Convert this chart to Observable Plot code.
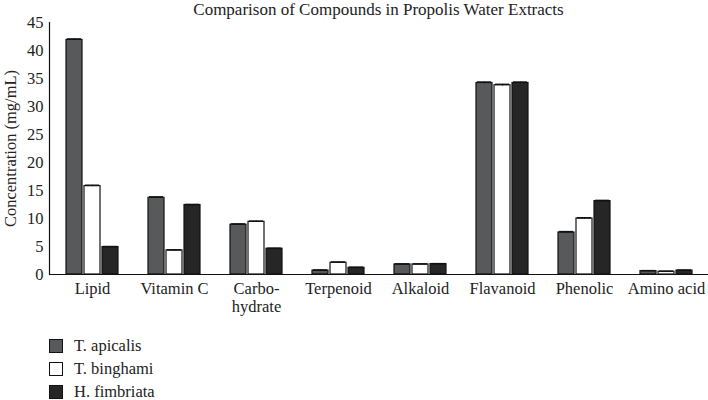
<!DOCTYPE html>
<html>
<head>
<meta charset="utf-8">
<script src="https://cdn.jsdelivr.net/npm/d3@7"></script>
<script src="https://cdn.jsdelivr.net/npm/@observablehq/plot@0.6"></script>
<style>
  html, body { margin: 0; padding: 0; background: #fff; }
  #wrap { position: relative; width: 708px; height: 400px; font-family: "Liberation Serif", serif; color: #222; }
  #title { position: absolute; left: 49px; width: 659px; top: 0; line-height: 20px; text-align: center; font-size: 17px; }
  #chart { position: absolute; left: 0; top: 0; }
  #legend { position: absolute; left: 49px; top: 334px; font-size: 16.5px; }
  .row { display: flex; align-items: center; height: 23px; }
  .sw { width: 12px; height: 12px; border: 1.2px solid #111; margin-right: 11px; box-sizing: content-box; }
</style>
</head>
<body>
<div id="wrap">
  <div id="chart"></div>
  <div id="title"></div>
  <div id="legend"></div>
</div>
<script>
const title = "Comparison of Compounds in Propolis Water Extracts";
const yLabel = "Concentration (mg/mL)";
const categories = ["Lipid", "Vitamin C", "Carbohydrate", "Terpenoid", "Alkaloid", "Flavanoid", "Phenolic", "Amino acid"];
const categoryLabels = ["Lipid", "Vitamin C", "Carbo-\nhydrate", "Terpenoid", "Alkaloid", "Flavanoid", "Phenolic", "Amino acid"];
const series = ["T. apicalis", "T. binghami", "H. fimbriata"];
const colors = ["#58595b", "#ffffff", "#262626"];
const apicalis = [41.9, 13.7, 8.9, 0.7, 1.8, 34.2, 7.5, 0.6];
const binghami = [15.8, 4.3, 9.4, 2.1, 1.8, 33.8, 10.0, 0.5];
const fimbriata = [4.9, 12.4, 4.6, 1.2, 1.85, 34.2, 13.1, 0.7];
const apicalisErr = [0.15, 0.15, 0.12, 0.1, 0.08, 0.15, 0.15, 0.08];
const binghamiErr = [0.12, 0.1, 0.12, 0.12, 0.08, 0.15, 0.12, 0.08];
const fimbriataErr = [0.08, 0.1, 0.08, 0.08, 0.08, 0.15, 0.12, 0.08];
const yTicks = [0, 5, 10, 15, 20, 25, 30, 35, 40, 45];

const valueSets = [apicalis, binghami, fimbriata];
const errSets = [apicalisErr, binghamiErr, fimbriataErr];
const rows = series.flatMap((s, si) => categories.map((c, ci) => ({
  cat: c, series: s, si, value: valueSets[si][ci], err: errSets[si][ci]
})));

const barW = 16, gap = 2, step = barW + gap;
const marks = [];
series.forEach((s, si) => {
  const d = rows.filter(r => r.si === si);
  const insetLeft = si * step, insetRight = (series.length - 1 - si) * step;
  const dx = (si - 1) * step;
  marks.push(Plot.barY(d, {x: "cat", y: "value", fill: "series", stroke: "#111", strokeWidth: 1.2, insetLeft, insetRight}));
  marks.push(Plot.ruleX(d, {x: "cat", y1: r => r.value - r.err, y2: r => r.value + r.err, dx, stroke: "#111", strokeWidth: 1}));
  marks.push(Plot.tickY(d, {x: "cat", y: r => r.value + r.err, insetLeft: insetLeft + 1, insetRight: insetRight + 1, stroke: "#111", strokeWidth: 1.6}));
});
marks.push(Plot.ruleY([0], {stroke: "#111", strokeWidth: 1.2}));
marks.push(Plot.frame({anchor: "left", stroke: "#111", strokeWidth: 1.2}));
marks.push(Plot.axisX({tickSize: 0, tickPadding: 6, lineHeight: 1.12, label: null,
  tickFormat: (d) => categoryLabels[categories.indexOf(d)]}));
marks.push(Plot.axisY({ticks: yTicks, tickSize: 0, tickPadding: 6, label: yLabel, labelArrow: "none",
  labelAnchor: "center", labelOffset: 45}));

const chart = Plot.plot({
  width: 708,
  height: 318,
  marginLeft: 49,
  marginRight: 0,
  marginTop: 22,
  marginBottom: 44,
  style: {fontFamily: "Liberation Serif, serif", fontSize: "16.5px", color: "#222", background: "#fff"},
  x: {domain: categories, paddingInner: 0.37, paddingOuter: 0.185},
  y: {domain: [0, 45]},
  color: {domain: series, range: colors},
  marks
});
document.getElementById("chart").appendChild(chart);
document.getElementById("title").textContent = title;
const legend = document.getElementById("legend");
series.forEach((s, i) => {
  const row = document.createElement("div");
  row.className = "row";
  const sw = document.createElement("div");
  sw.className = "sw";
  sw.style.background = colors[i];
  const t = document.createElement("span");
  t.textContent = s;
  row.appendChild(sw); row.appendChild(t);
  legend.appendChild(row);
});
</script>
</body>
</html>
